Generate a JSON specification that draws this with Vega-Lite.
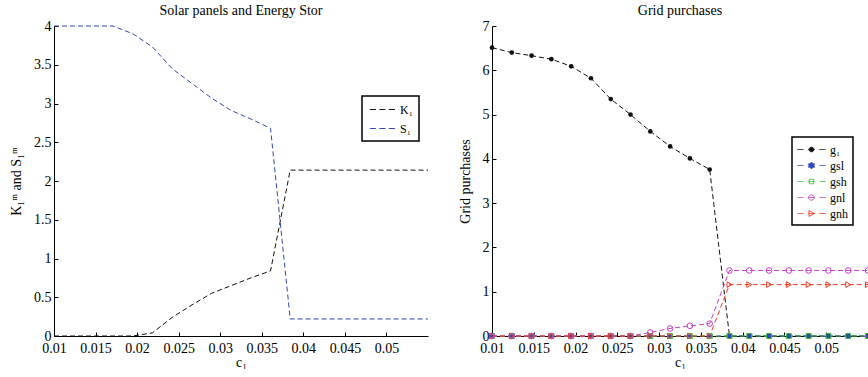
{
  "$schema": "https://vega.github.io/schema/vega-lite/v6.json",
  "padding": {"left": 9, "top": 4, "right": 0, "bottom": 0},
  "background": "white",
  "datasets": {
    "left": [
      {"c": 0.01, "s": "K₁", "v": 0}, {"c": 0.012368, "s": "K₁", "v": 0}, {"c": 0.014737, "s": "K₁", "v": 0}, {"c": 0.017105, "s": "K₁", "v": 0},
      {"c": 0.019474, "s": "K₁", "v": 0}, {"c": 0.021842, "s": "K₁", "v": 0.04}, {"c": 0.024211, "s": "K₁", "v": 0.24}, {"c": 0.026579, "s": "K₁", "v": 0.40},
      {"c": 0.028947, "s": "K₁", "v": 0.55}, {"c": 0.031316, "s": "K₁", "v": 0.65}, {"c": 0.033684, "s": "K₁", "v": 0.75}, {"c": 0.036053, "s": "K₁", "v": 0.84},
      {"c": 0.038421, "s": "K₁", "v": 2.14}, {"c": 0.040789, "s": "K₁", "v": 2.14}, {"c": 0.043158, "s": "K₁", "v": 2.14}, {"c": 0.045526, "s": "K₁", "v": 2.14},
      {"c": 0.047895, "s": "K₁", "v": 2.14}, {"c": 0.050263, "s": "K₁", "v": 2.14}, {"c": 0.052632, "s": "K₁", "v": 2.14}, {"c": 0.055, "s": "K₁", "v": 2.14},
      {"c": 0.01, "s": "S₁", "v": 4}, {"c": 0.012368, "s": "S₁", "v": 4}, {"c": 0.014737, "s": "S₁", "v": 4}, {"c": 0.017105, "s": "S₁", "v": 4},
      {"c": 0.019474, "s": "S₁", "v": 3.9}, {"c": 0.021842, "s": "S₁", "v": 3.73}, {"c": 0.024211, "s": "S₁", "v": 3.45}, {"c": 0.026579, "s": "S₁", "v": 3.26},
      {"c": 0.028947, "s": "S₁", "v": 3.07}, {"c": 0.031316, "s": "S₁", "v": 2.91}, {"c": 0.033684, "s": "S₁", "v": 2.8}, {"c": 0.036053, "s": "S₁", "v": 2.68},
      {"c": 0.038421, "s": "S₁", "v": 0.22}, {"c": 0.040789, "s": "S₁", "v": 0.22}, {"c": 0.043158, "s": "S₁", "v": 0.22}, {"c": 0.045526, "s": "S₁", "v": 0.22},
      {"c": 0.047895, "s": "S₁", "v": 0.22}, {"c": 0.050263, "s": "S₁", "v": 0.22}, {"c": 0.052632, "s": "S₁", "v": 0.22}, {"c": 0.055, "s": "S₁", "v": 0.22}
    ],
    "right": [
      {"c": 0.01, "s": "g₁", "v": 6.51}, {"c": 0.012368, "s": "g₁", "v": 6.40}, {"c": 0.014737, "s": "g₁", "v": 6.33}, {"c": 0.017105, "s": "g₁", "v": 6.25},
      {"c": 0.019474, "s": "g₁", "v": 6.09}, {"c": 0.021842, "s": "g₁", "v": 5.82}, {"c": 0.024211, "s": "g₁", "v": 5.35}, {"c": 0.026579, "s": "g₁", "v": 5.00},
      {"c": 0.028947, "s": "g₁", "v": 4.62}, {"c": 0.031316, "s": "g₁", "v": 4.28}, {"c": 0.033684, "s": "g₁", "v": 4.01}, {"c": 0.036053, "s": "g₁", "v": 3.76},
      {"c": 0.038421, "s": "g₁", "v": 0}, {"c": 0.040789, "s": "g₁", "v": 0}, {"c": 0.043158, "s": "g₁", "v": 0}, {"c": 0.045526, "s": "g₁", "v": 0},
      {"c": 0.047895, "s": "g₁", "v": 0}, {"c": 0.050263, "s": "g₁", "v": 0}, {"c": 0.052632, "s": "g₁", "v": 0}, {"c": 0.055, "s": "g₁", "v": 0},
      {"c": 0.01, "s": "gsl", "v": 0}, {"c": 0.012368, "s": "gsl", "v": 0}, {"c": 0.014737, "s": "gsl", "v": 0}, {"c": 0.017105, "s": "gsl", "v": 0},
      {"c": 0.019474, "s": "gsl", "v": 0}, {"c": 0.021842, "s": "gsl", "v": 0}, {"c": 0.024211, "s": "gsl", "v": 0}, {"c": 0.026579, "s": "gsl", "v": 0},
      {"c": 0.028947, "s": "gsl", "v": 0}, {"c": 0.031316, "s": "gsl", "v": 0}, {"c": 0.033684, "s": "gsl", "v": 0}, {"c": 0.036053, "s": "gsl", "v": 0},
      {"c": 0.038421, "s": "gsl", "v": 0}, {"c": 0.040789, "s": "gsl", "v": 0}, {"c": 0.043158, "s": "gsl", "v": 0}, {"c": 0.045526, "s": "gsl", "v": 0},
      {"c": 0.047895, "s": "gsl", "v": 0}, {"c": 0.050263, "s": "gsl", "v": 0}, {"c": 0.052632, "s": "gsl", "v": 0}, {"c": 0.055, "s": "gsl", "v": 0},
      {"c": 0.01, "s": "gsh", "v": 0}, {"c": 0.012368, "s": "gsh", "v": 0}, {"c": 0.014737, "s": "gsh", "v": 0}, {"c": 0.017105, "s": "gsh", "v": 0},
      {"c": 0.019474, "s": "gsh", "v": 0}, {"c": 0.021842, "s": "gsh", "v": 0}, {"c": 0.024211, "s": "gsh", "v": 0}, {"c": 0.026579, "s": "gsh", "v": 0},
      {"c": 0.028947, "s": "gsh", "v": 0}, {"c": 0.031316, "s": "gsh", "v": 0}, {"c": 0.033684, "s": "gsh", "v": 0}, {"c": 0.036053, "s": "gsh", "v": 0},
      {"c": 0.038421, "s": "gsh", "v": 0}, {"c": 0.040789, "s": "gsh", "v": 0}, {"c": 0.043158, "s": "gsh", "v": 0}, {"c": 0.045526, "s": "gsh", "v": 0},
      {"c": 0.047895, "s": "gsh", "v": 0}, {"c": 0.050263, "s": "gsh", "v": 0}, {"c": 0.052632, "s": "gsh", "v": 0}, {"c": 0.055, "s": "gsh", "v": 0},
      {"c": 0.01, "s": "gnl", "v": 0}, {"c": 0.012368, "s": "gnl", "v": 0}, {"c": 0.014737, "s": "gnl", "v": 0}, {"c": 0.017105, "s": "gnl", "v": 0},
      {"c": 0.019474, "s": "gnl", "v": 0}, {"c": 0.021842, "s": "gnl", "v": 0}, {"c": 0.024211, "s": "gnl", "v": 0}, {"c": 0.026579, "s": "gnl", "v": 0},
      {"c": 0.028947, "s": "gnl", "v": 0.08}, {"c": 0.031316, "s": "gnl", "v": 0.17}, {"c": 0.033684, "s": "gnl", "v": 0.23}, {"c": 0.036053, "s": "gnl", "v": 0.28},
      {"c": 0.038421, "s": "gnl", "v": 1.48}, {"c": 0.040789, "s": "gnl", "v": 1.48}, {"c": 0.043158, "s": "gnl", "v": 1.48}, {"c": 0.045526, "s": "gnl", "v": 1.48},
      {"c": 0.047895, "s": "gnl", "v": 1.48}, {"c": 0.050263, "s": "gnl", "v": 1.48}, {"c": 0.052632, "s": "gnl", "v": 1.48}, {"c": 0.055, "s": "gnl", "v": 1.48},
      {"c": 0.01, "s": "gnh", "v": 0}, {"c": 0.012368, "s": "gnh", "v": 0}, {"c": 0.014737, "s": "gnh", "v": 0}, {"c": 0.017105, "s": "gnh", "v": 0},
      {"c": 0.019474, "s": "gnh", "v": 0}, {"c": 0.021842, "s": "gnh", "v": 0}, {"c": 0.024211, "s": "gnh", "v": 0}, {"c": 0.026579, "s": "gnh", "v": 0},
      {"c": 0.028947, "s": "gnh", "v": 0}, {"c": 0.031316, "s": "gnh", "v": 0}, {"c": 0.033684, "s": "gnh", "v": 0}, {"c": 0.036053, "s": "gnh", "v": 0},
      {"c": 0.038421, "s": "gnh", "v": 1.16}, {"c": 0.040789, "s": "gnh", "v": 1.16}, {"c": 0.043158, "s": "gnh", "v": 1.16}, {"c": 0.045526, "s": "gnh", "v": 1.16},
      {"c": 0.047895, "s": "gnh", "v": 1.16}, {"c": 0.050263, "s": "gnh", "v": 1.16}, {"c": 0.052632, "s": "gnh", "v": 1.16}, {"c": 0.055, "s": "gnh", "v": 1.16}
    ]
  },
  "resolve": {"scale": {"color": "independent"}, "legend": {"color": "independent"}},
  "hconcat": [
    {
      "width": 374,
      "height": 310,
      "title": "Solar panels and Energy Stor",
      "data": {"name": "left"},
      "mark": {"type": "line", "strokeDash": [5, 3], "strokeWidth": 1},
      "encoding": {
        "x": {"field": "c", "type": "quantitative", "scale": {"domain": [0.01, 0.055], "nice": false, "zero": false},
              "axis": {"values": [0.01, 0.015, 0.02, 0.025, 0.03, 0.035, 0.04, 0.045, 0.05], "format": "~g", "title": "c₁"}},
        "y": {"field": "v", "type": "quantitative", "scale": {"domain": [0, 4], "nice": false},
              "axis": {"values": [0, 0.5, 1, 1.5, 2, 2.5, 3, 3.5, 4], "format": "~g", "title": "K₁ᵐ and S₁ᵐ"}},
        "color": {"field": "s", "type": "nominal", "scale": {"domain": ["K₁", "S₁"], "range": ["#111111", "#2f46bd"]},
                  "legend": {"title": null, "orient": "none", "legendX": 308, "legendY": 70,
                             "symbolType": "M-1.8,0H1.8", "symbolSize": 196, "symbolDash": [6, 3.5], "symbolStrokeWidth": 1,
                             "symbolOffset": 7, "labelOffset": 10, "padding": 6, "rowPadding": 5,
                             "strokeColor": "#000", "fillColor": "white",
                             "encode": {"legend": {"update": {"strokeWidth": {"value": 1.5}}}}}}
      }
    },
    {
      "width": 376,
      "height": 310,
      "title": "Grid purchases",
      "data": {"name": "right"},
      "encoding": {
        "x": {"field": "c", "type": "quantitative", "scale": {"domain": [0.01, 0.055], "nice": false, "zero": false},
              "axis": {"values": [0.01, 0.015, 0.02, 0.025, 0.03, 0.035, 0.04, 0.045, 0.05], "format": "~g", "title": "c₁"}},
        "y": {"field": "v", "type": "quantitative", "scale": {"domain": [0, 7], "nice": false},
              "axis": {"values": [0, 1, 2, 3, 4, 5, 6, 7], "format": "~g", "title": "Grid purchases"}}
      },
      "layer": [
        {
          "mark": {"type": "line", "strokeDash": [5, 3], "strokeWidth": 1, "clip": false},
          "encoding": {
            "color": {"field": "s", "type": "nominal",
                      "scale": {"domain": ["g₁", "gsl", "gsh", "gnl", "gnh"], "range": ["#111111", "#3049c0", "#3cbf3c", "#c63cc6", "#f03a22"]},
                      "legend": {"title": null, "orient": "none", "legendX": 300, "legendY": 111,
                                 "symbolType": "M-2,0H-1.15M-0.45,0H0.45M1.15,0H2", "symbolSize": 196, "symbolStrokeWidth": 1,
                                 "symbolOffset": 7, "labelOffset": 11, "padding": 5, "rowPadding": 2,
                                 "strokeColor": "#000", "fillColor": "white",
                                 "encode": {
                                   "legend": {"update": {"strokeWidth": {"value": 1.5}}},
                                   "symbols": {"update": {
                                     "strokeDash": {"value": [1, 0]},
                                     "shape": {"signal": "datum.value === 'g₁' ? 'M-2,0H-1.15M-0.45,0H0.45M1.15,0H2M0.323,0.134L0.134,0.323L-0.134,0.323L-0.323,0.134L-0.323,-0.134L-0.134,-0.323L0.134,-0.323L0.323,-0.134Z' : datum.value === 'gsl' ? 'M-2,0H-1.15M-0.45,0H0.45M1.15,0H2M0,-0.5L0.144,-0.25L0.433,-0.25L0.289,0L0.433,0.25L0.144,0.25L0,0.5L-0.144,0.25L-0.433,0.25L-0.289,0L-0.433,-0.25L-0.144,-0.25Z' : datum.value === 'gsh' ? 'M-2,0H-1.15M-0.45,0H0.45M1.15,0H2M-0.32,-0.32H0.32V0.32H-0.32Z' : datum.value === 'gnl' ? 'M-2,0H-1.15M-0.45,0H0.45M1.15,0H2M0.37,0.153L0.153,0.37L-0.153,0.37L-0.37,0.153L-0.37,-0.153L-0.153,-0.37L0.153,-0.37L0.37,-0.153Z' : 'M-2,0H-1.15M-0.45,0H0.45M1.15,0H2M-0.35,-0.42L0.42,0L-0.35,0.42Z'"},
                                     "fill": {"signal": "datum.value === 'g₁' ? '#111111' : datum.value === 'gsl' ? '#3049c0' : 'transparent'"}
                                   }}
                                 }}}
          }
        },
        {"transform": [{"filter": "datum.s === 'g₁'"}], "mark": {"type": "point", "shape": "circle", "filled": true, "size": 22, "color": "#111111", "opacity": 1, "clip": false}},
        {"transform": [{"filter": "datum.s === 'gsl'"}], "mark": {"type": "point", "shape": "M0,-1L0.289,-0.5L0.866,-0.5L0.577,0L0.866,0.5L0.289,0.5L0,1L-0.289,0.5L-0.866,0.5L-0.577,0L-0.866,-0.5L-0.289,-0.5Z", "filled": true, "size": 40, "color": "#3049c0", "opacity": 1, "clip": false}},
        {"transform": [{"filter": "datum.s === 'gsh'"}], "mark": {"type": "point", "shape": "square", "filled": false, "size": 25, "color": "#3cbf3c", "strokeWidth": 1, "opacity": 1, "clip": false}},
        {"transform": [{"filter": "datum.s === 'gnl'"}], "mark": {"type": "point", "shape": "circle", "filled": false, "size": 32, "color": "#c63cc6", "strokeWidth": 1, "opacity": 1, "clip": false}},
        {"transform": [{"filter": "datum.s === 'gnh'"}], "mark": {"type": "point", "shape": "triangle-right", "filled": false, "size": 32, "color": "#f03a22", "strokeWidth": 1, "opacity": 1, "clip": false}}
      ]
    }
  ],
  "spacing": 28,
  "config": {
    "font": "Liberation Serif",
    "view": {"stroke": null},
    "axis": {
      "domainColor": "#000", "tickColor": "#000", "labelColor": "#000", "titleColor": "#000",
      "labelFont": "Liberation Serif", "titleFont": "Liberation Serif",
      "labelFontSize": 14, "titleFontSize": 14, "titleFontWeight": "normal", "labelFlush": false,
      "grid": false, "tickSize": -4, "labelPadding": 7, "domainWidth": 1, "tickWidth": 1
    },
    "axisX": {"titlePadding": 0, "labelPadding": 9},
    "axisY": {"titlePadding": 10},
    "title": {"font": "Liberation Serif", "fontSize": 14, "fontWeight": "normal", "color": "#000", "frame": "group", "offset": 1},
    "legend": {"labelFont": "Liberation Serif", "labelFontSize": 12, "labelColor": "#000"}
  }
}
